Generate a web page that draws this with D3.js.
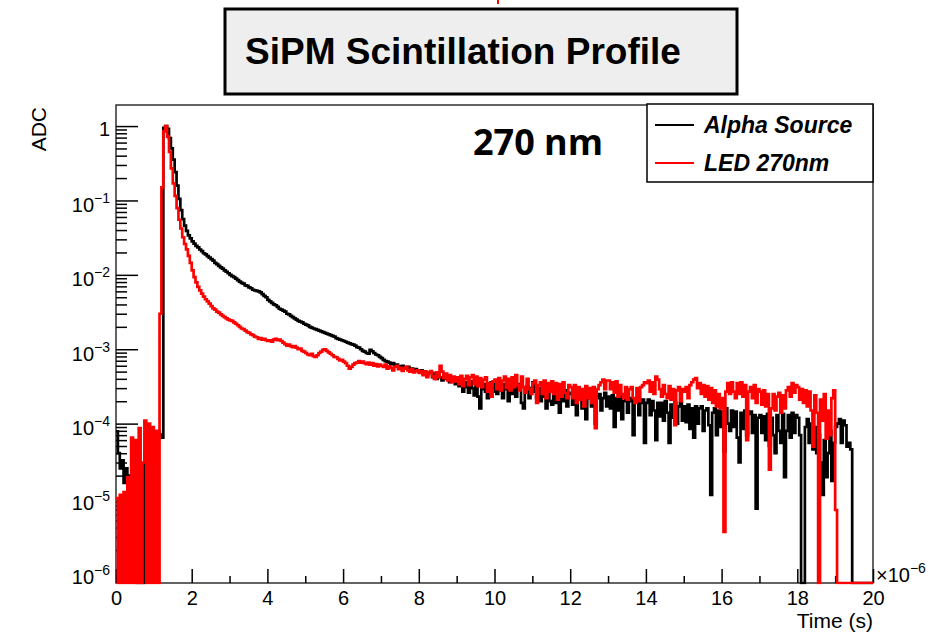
<!DOCTYPE html>
<html>
<head>
<meta charset="utf-8">
<script src="https://cdn.jsdelivr.net/npm/d3@7"></script>
<style>
  body { margin: 0; background: #fff; }
  svg { display: block; font-family: "Liberation Sans", Arial, Helvetica, sans-serif; }
</style>
</head>
<body>
<svg id="chart" width="933" height="633"></svg>
<script>
// histogram bins, 0.05 us wide, starting at t = 0 (x axis is in units of 1e-6 s)
const binWidthUs = 0.05;

// Alpha Source (black), normalised ADC per bin, 20 bins per microsecond
const alphaSource = [
  7.9e-5, 4.0e-5, 2.5e-5, 3.2e-5, 1.6e-5, 2.5e-5, 4.0e-6, 2.0e-5, 1.3e-5, 2.5e-6, 4.0e-6, 0, 0, 0, 0, 4.0e-5, 2.5e-5, 1.0e-5, 2.0e-5, 3.2e-6,
  5.0e-5, 3.2e-5, 7.9e-5, 7.1e-5, 6.5e-5, 0.95, 1.0, 0.92, 0.69, 0.50, 0.355, 0.24, 0.158, 0.105, 0.074, 0.056, 0.046, 0.039, 0.034, 0.031,
  0.0282, 0.0263, 0.0245, 0.0234, 0.0219, 0.0209, 0.0195, 0.0188, 0.0178, 0.0170, 0.0163, 0.0155, 0.0145, 0.0139, 0.0132, 0.0126, 0.0121, 0.0115, 0.0110, 0.0105,
  0.0100, 0.0096, 0.0093, 0.0089, 0.0085, 0.0081, 0.0078, 0.0076, 0.0072, 0.0071, 0.0068, 0.0066, 0.0063, 0.0062, 0.0061, 0.0060, 0.0058, 0.0055, 0.0052, 0.0050,
  0.0046, 0.0044, 0.0042, 0.0040, 0.0039, 0.0037, 0.0035, 0.0034, 0.0033, 0.0032, 0.0030, 0.00295, 0.0028, 0.0027, 0.0026, 0.0025, 0.0024, 0.00235, 0.0023, 0.0022,
  0.00214, 0.00209, 0.0020, 0.00195, 0.0019, 0.00186, 0.00182, 0.00178, 0.00174, 0.0017, 0.00166, 0.00162, 0.00158, 0.00155, 0.00151, 0.00148, 0.00141, 0.00138, 0.00135, 0.00132,
  1.29e-3, 1.26e-3, 1.23e-3, 1.2e-3, 1.17e-3, 1.15e-3, 1.12e-3, 1.07e-3, 1.05e-3, 1.0e-3, 9.5e-4, 9.3e-4, 8.9e-4, 8.7e-4, 9.8e-4, 9.4e-4, 8.9e-4, 8.5e-4, 8.3e-4, 7.9e-4,
  7.6e-4, 7.2e-4, 6.9e-4, 6.8e-4, 6.6e-4, 6.3e-4, 6.5e-4, 6.0e-4, 6.2e-4, 5.9e-4, 5.8e-4, 6.0e-4, 5.6e-4, 5.5e-4, 5.8e-4, 5.4e-4, 5.5e-4, 5.2e-4, 5.4e-4, 5.1e-4,
  5.0e-4, 5.2e-4, 4.7e-4, 5.0e-4, 4.5e-4, 4.8e-4, 4.9e-4, 4.2e-4, 4.7e-4, 4.0e-4, 4.6e-4, 4.2e-4, 3.8e-4, 4.5e-4, 4.0e-4, 4.3e-4, 3.6e-4, 4.1e-4, 3.8e-4, 3.4e-4,
  3.9e-4, 3.2e-4, 3.8e-4, 2.7e-4, 3.6e-4, 3.1e-4, 2.6e-4, 3.7e-4, 3.0e-4, 2.4e-4, 3.3e-4, 2.3e-4, 1.6e-4, 2.9e-4, 3.4e-4, 2.7e-4, 2.2e-4, 3.3e-4, 3.6e-4, 2.7e-4,
  3.4e-4, 2.5e-4, 3.5e-4, 2.8e-4, 2.2e-4, 3.4e-4, 2.9e-4, 2.0e-4, 3.3e-4, 2.5e-4, 3.2e-4, 2.3e-4, 3.1e-4, 3.4e-4, 1.9e-4, 1.6e-4, 2.9e-4, 3.2e-4, 2.2e-4, 3.0e-4,
  3.6e-4, 2.7e-4, 2.2e-4, 3.0e-4, 2.0e-4, 2.9e-4, 2.3e-4, 1.6e-4, 2.8e-4, 2.0e-4, 1.8e-4, 2.8e-4, 1.9e-4, 2.7e-4, 1.4e-4, 2.6e-4, 2.0e-4, 2.8e-4, 1.7e-4, 2.5e-4,
  2.6e-4, 1.8e-4, 2.5e-4, 1.3e-4, 2.3e-4, 2.6e-4, 1.6e-4, 2.4e-4, 1.15e-4, 2.2e-4, 2.5e-4, 1.7e-4, 2.4e-4, 1.0e-4, 2.2e-4, 2.5e-4, 1.5e-4, 2.2e-4, 2.6e-4, 1.7e-4,
  2.3e-4, 1.6e-4, 2.4e-4, 9.0e-5, 2.2e-4, 1.5e-4, 2.3e-4, 1.15e-4, 2.0e-4, 2.2e-4, 1.4e-4, 2.0e-4, 2.2e-4, 7.0e-5, 2.0e-4, 2.1e-4, 1.3e-4, 1.9e-4, 2.1e-4, 5.5e-5,
  1.9e-4, 2.1e-4, 1.3e-4, 2.0e-4, 1.5e-4, 6.0e-5, 1.9e-4, 1.25e-4, 1.9e-4, 1.1e-4, 2.0e-4, 1.4e-4, 5.5e-5, 1.8e-4, 1.2e-4, 1.9e-4, 1.0e-4, 1.7e-4, 1.9e-4, 1.1e-4,
  1.7e-4, 1.05e-4, 1.8e-4, 8.5e-5, 1.6e-4, 6.5e-5, 1.7e-4, 1.0e-4, 1.6e-4, 1.7e-4, 8.0e-5, 1.5e-4, 1.6e-4, 9.5e-5, 1.1e-5, 1.4e-4, 1.6e-4, 7.0e-5, 1.5e-4, 9.0e-5,
  1.45e-4, 4.2e-5, 1.6e-4, 1.0e-4, 8.0e-5, 1.5e-4, 9.0e-5, 1.45e-4, 6.5e-5, 3.0e-5, 1.4e-4, 8.5e-5, 1.5e-4, 7.0e-5, 1.35e-4, 1.45e-4, 7.5e-5, 1.3e-4, 7.2e-6, 1.2e-4,
  1.3e-4, 7.5e-5, 1.25e-4, 6.0e-5, 1.35e-4, 5.0e-5, 1.2e-4, 7.0e-5, 4.0e-5, 1.3e-4, 8.0e-5, 5.5e-5, 1.35e-4, 1.9e-5, 8.0e-5, 1.3e-4, 6.5e-5, 1.4e-4, 7.5e-5, 1.3e-4,
  1.2e-4, 7.0e-5, 0, 0, 9.0e-5, 1.15e-4, 5.5e-5, 1.0e-4, 4.5e-5, 9.0e-5, 4.0e-5, 7.0e-5, 3.0e-5, 1.1e-5, 6.0e-5, 1.9e-5, 4.0e-5, 8.0e-5, 1.7e-5, 5.5e-5,
  9.0e-5, 1.0e-4, 1.15e-4, 5.5e-5, 1.1e-4, 9.5e-5, 4.9e-5, 5.5e-5, 4.5e-5, 0, 0, 0, 0, 0, 0, 0, 0, 0, 0, 0
];

// LED 270nm (red)
const led270 = [
  1.0e-5, 0, 1.1e-5, 0, 1.2e-5, 0, 1.9e-5, 0, 6.5e-5, 0, 6.0e-5, 0, 8.7e-5, 0, 3.0e-5, 1.1e-4, 0, 1.0e-4, 0, 9.0e-5,
  0, 8.0e-5, 0, 3.0e-3, 0.15, 0.85, 1.0, 0.72, 0.45, 0.27, 0.17, 0.115, 0.079, 0.055, 0.042, 0.032, 0.026, 0.022, 0.018, 0.0145,
  1.15e-2, 9.3e-3, 7.9e-3, 6.9e-3, 6.2e-3, 5.6e-3, 5.1e-3, 4.7e-3, 4.4e-3, 4.1e-3, 3.8e-3, 3.55e-3, 3.4e-3, 3.2e-3, 3.1e-3, 2.95e-3, 2.8e-3, 2.7e-3, 2.6e-3, 2.5e-3,
  2.45e-3, 2.4e-3, 2.3e-3, 2.2e-3, 2.1e-3, 2.0e-3, 1.9e-3, 1.86e-3, 1.78e-3, 1.7e-3, 1.66e-3, 1.58e-3, 1.55e-3, 1.48e-3, 1.45e-3, 1.38e-3, 1.41e-3, 1.35e-3, 1.38e-3, 1.32e-3,
  1.29e-3, 1.32e-3, 1.26e-3, 1.35e-3, 1.38e-3, 1.32e-3, 1.35e-3, 1.29e-3, 1.23e-3, 1.17e-3, 1.12e-3, 1.15e-3, 1.1e-3, 1.07e-3, 1.1e-3, 1.05e-3, 1.0e-3, 1.02e-3, 9.5e-4, 9.3e-4,
  8.9e-4, 8.5e-4, 8.3e-4, 8.7e-4, 8.1e-4, 7.9e-4, 8.3e-4, 8.9e-4, 9.3e-4, 9.8e-4, 1.0e-3, 9.5e-4, 9.1e-4, 8.7e-4, 8.3e-4, 7.9e-4, 7.8e-4, 7.4e-4, 7.1e-4, 7.2e-4,
  6.8e-4, 6.5e-4, 6.0e-4, 5.5e-4, 5.8e-4, 6.2e-4, 6.5e-4, 6.6e-4, 6.9e-4, 6.6e-4, 6.8e-4, 6.5e-4, 6.3e-4, 6.6e-4, 6.2e-4, 6.5e-4, 6.0e-4, 6.3e-4, 5.9e-4, 6.2e-4,
  6.0e-4, 5.8e-4, 6.2e-4, 5.5e-4, 5.9e-4, 5.6e-4, 5.2e-4, 5.8e-4, 6.0e-4, 5.4e-4, 5.6e-4, 5.1e-4, 5.5e-4, 5.8e-4, 5.2e-4, 5.0e-4, 5.4e-4, 4.9e-4, 5.1e-4, 5.2e-4,
  4.8e-4, 5.1e-4, 4.5e-4, 5.0e-4, 4.2e-4, 4.8e-4, 5.1e-4, 4.3e-4, 4.0e-4, 4.9e-4, 4.2e-4, 6.0e-4, 5.0e-4, 4.1e-4, 4.7e-4, 3.8e-4, 4.5e-4, 3.6e-4, 4.3e-4, 3.7e-4,
  4.2e-4, 3.4e-4, 4.4e-4, 3.2e-4, 4.0e-4, 4.4e-4, 3.3e-4, 4.2e-4, 4.5e-4, 3.4e-4, 4.3e-4, 3.2e-4, 4.1e-4, 3.1e-4, 3.9e-4, 4.2e-4, 2.7e-4, 3.5e-4, 2.3e-4, 3.7e-4,
  3.9e-4, 2.9e-4, 4.1e-4, 2.8e-4, 3.8e-4, 4.3e-4, 3.0e-4, 4.0e-4, 2.8e-4, 4.2e-4, 3.1e-4, 4.5e-4, 3.3e-4, 2.8e-4, 4.3e-4, 3.1e-4, 2.6e-4, 4.0e-4, 2.9e-4, 2.5e-4,
  3.5e-4, 3.8e-4, 1.9e-4, 3.3e-4, 3.6e-4, 2.5e-4, 3.8e-4, 2.2e-4, 3.5e-4, 2.7e-4, 3.7e-4, 2.5e-4, 3.5e-4, 2.1e-4, 3.4e-4, 2.3e-4, 3.6e-4, 2.6e-4, 2.2e-4, 3.3e-4,
  3.1e-4, 2.2e-4, 3.3e-4, 1.9e-4, 3.1e-4, 2.1e-4, 2.9e-4, 1.7e-4, 3.2e-4, 2.2e-4, 3.0e-4, 1.9e-4, 3.1e-4, 8.7e-5, 2.9e-4, 3.3e-4, 3.6e-4, 3.9e-4, 2.9e-4, 3.8e-4,
  3.8e-4, 2.9e-4, 3.6e-4, 2.6e-4, 3.7e-4, 2.3e-4, 3.3e-4, 2.5e-4, 2.2e-4, 3.1e-4, 2.1e-4, 2.9e-4, 3.1e-4, 2.2e-4, 1.9e-4, 3.0e-4, 2.0e-4, 3.1e-4, 3.3e-4, 3.6e-4,
  3.5e-4, 3.8e-4, 2.7e-4, 3.6e-4, 2.5e-4, 4.3e-4, 3.9e-4, 2.9e-4, 2.3e-4, 3.3e-4, 2.5e-4, 2.2e-4, 3.2e-4, 2.1e-4, 2.9e-4, 9.5e-5, 2.8e-4, 3.1e-4, 2.0e-4, 2.9e-4,
  2.7e-4, 3.1e-4, 2.2e-4, 3.3e-4, 3.6e-4, 3.9e-4, 4.1e-4, 3.0e-4, 3.5e-4, 2.5e-4, 3.3e-4, 2.3e-4, 3.2e-4, 2.1e-4, 3.0e-4, 1.9e-4, 2.8e-4, 1.7e-4, 2.5e-4, 1.6e-4,
  2.2e-4, 3.5e-6, 2.7e-4, 3.5e-4, 2.5e-4, 3.6e-4, 2.7e-4, 2.2e-4, 3.5e-4, 2.5e-4, 3.6e-4, 2.3e-4, 3.3e-4, 6.0e-5, 2.7e-4, 3.1e-4, 2.2e-4, 3.3e-4, 1.9e-4, 2.9e-4,
  2.7e-4, 1.8e-4, 2.8e-4, 1.7e-4, 2.5e-4, 2.4e-5, 1.6e-4, 2.5e-4, 1.5e-4, 2.3e-4, 2.6e-4, 1.4e-4, 2.4e-4, 1.6e-4, 2.8e-4, 3.1e-4, 2.3e-4, 3.5e-4, 2.6e-4, 3.3e-4,
  3.1e-4, 2.1e-4, 2.9e-4, 1.9e-4, 2.8e-4, 1.7e-4, 2.7e-4, 1.5e-4, 4.9e-5, 2.4e-4, 1.4e-4, 0, 2.1e-4, 1.1e-4, 2.5e-4, 6.3e-5, 1.5e-4, 7.0e-5, 2.2e-4, 2.8e-4,
  6.9e-6, 0, 0, 0, 0, 0, 0, 0, 0, 0, 0, 0, 0, 0, 0, 0, 0, 0, 0, 0
];

const seriesNames = ["Alpha Source", "LED 270nm"];
const seriesColors = ["#000000", "#ff0000"];

const xTicks = [0, 2, 4, 6, 8, 10, 12, 14, 16, 18, 20];
const xMinorTicks = [1, 3, 5, 7, 9, 11, 13, 15, 17, 19];
const yDecades = [1, 1e-1, 1e-2, 1e-3, 1e-4, 1e-5, 1e-6];
const yExponents = [0, -1, -2, -3, -4, -5, -6];

// ---- layout ----
const frame = { left: 116, right: 873, top: 105, bottom: 583 };
const yMin = 7.2e-7, yMax = 1.92;

const svg = d3.select("#chart");
svg.append("rect").attr("width", 933).attr("height", 633).attr("fill", "#fff");

const x = d3.scaleLinear().domain([0, 20]).range([frame.left, frame.right]);
const y = d3.scaleLog().domain([yMin, yMax]).range([frame.bottom, frame.top]);

// stray red mark at the very top of the slide
svg.append("line").attr("x1", 498).attr("x2", 498).attr("y1", 0).attr("y2", 4)
  .attr("stroke", "#ff0000").attr("stroke-width", 2);

// title box
svg.append("rect")
  .attr("x", 225).attr("y", 9).attr("width", 512).attr("height", 85)
  .attr("fill", "#eeeeee").attr("stroke", "#000").attr("stroke-width", 3);
svg.append("text")
  .attr("x", 245).attr("y", 64)
  .style("font-size", "37px").style("font-weight", "bold")
  .text("SiPM Scintillation Profile");

// frame
svg.append("rect")
  .attr("x", frame.left).attr("y", frame.top)
  .attr("width", frame.right - frame.left).attr("height", frame.bottom - frame.top)
  .attr("fill", "none").attr("stroke", "#222").attr("stroke-width", 1.4);

function styleAxis(g) {
  g.attr("font-size", null).attr("font-family", null);
  g.select(".domain").remove();
  g.selectAll(".tick line").attr("stroke", "#000").attr("stroke-width", 1.5);
}

// x axis: major + minor ticks, pointing inward
svg.append("g")
  .attr("transform", `translate(0,${frame.bottom})`)
  .call(d3.axisBottom(x).tickValues(xTicks).tickSizeInner(-14).tickSizeOuter(0)
    .tickPadding(8).tickFormat(d3.format("d")))
  .call(styleAxis)
  .call(g => g.selectAll("text").style("font-size", "20px").attr("fill", "#000"));

svg.append("g")
  .attr("transform", `translate(0,${frame.bottom})`)
  .call(d3.axisBottom(x).tickValues(xMinorTicks).tickSizeInner(-7).tickSizeOuter(0).tickFormat(() => ""))
  .call(styleAxis);

// y axis (log): decades + 2..9 minor ticks
const yMinor = [];
for (let k = -7; k <= 0; k++) {
  for (let m = 2; m <= 9; m++) {
    const v = m * Math.pow(10, k);
    if (v > yMin && v < yMax) yMinor.push(v);
  }
}

const yAxisG = svg.append("g")
  .attr("transform", `translate(${frame.left},0)`)
  .call(d3.axisLeft(y).tickValues(yDecades).tickSizeInner(-22).tickSizeOuter(0).tickFormat(() => ""))
  .call(styleAxis);

svg.append("g")
  .attr("transform", `translate(${frame.left},0)`)
  .call(d3.axisLeft(y).tickValues(yMinor).tickSizeInner(-11).tickSizeOuter(0).tickFormat(() => ""))
  .call(styleAxis);

yAxisG.selectAll(".tick").each(function(d, i) {
  const e = yExponents[i];
  const t = d3.select(this).append("text")
    .attr("x", -6).attr("text-anchor", "end").attr("fill", "#000")
    .style("font-size", "20px");
  if (e === 0) {
    t.attr("y", 9).text("1");
  } else {
    t.attr("y", 11);
    t.append("tspan").text("10");
    t.append("tspan").attr("dy", -9).style("font-size", "14px").text("\u2212" + Math.abs(e));
  }
});

// axis titles
svg.append("text")
  .attr("transform", `translate(46,107) rotate(-90)`)
  .attr("text-anchor", "end")
  .style("font-size", "21px")
  .text("ADC");

svg.append("text")
  .attr("x", frame.right).attr("y", 628).attr("text-anchor", "end")
  .style("font-size", "21px")
  .text("Time (s)");

const mult = svg.append("text").attr("x", 876).attr("y", 582).style("font-size", "20px");
mult.append("tspan").text("\u00d710");
mult.append("tspan").attr("dy", -9).style("font-size", "14px").text("\u22126");

// histograms
svg.append("clipPath").attr("id", "plot-clip")
  .append("rect")
  .attr("x", frame.left).attr("y", frame.top)
  .attr("width", frame.right - frame.left).attr("height", frame.bottom - frame.top + 1.5);

function histPoints(values) {
  const pts = values.map((v, i) => [i * binWidthUs, v]);
  pts.push([values.length * binWidthUs, values[values.length - 1]]);
  return pts;
}

const line = d3.line()
  .x(d => x(d[0]))
  .y(d => y(Math.max(d[1], yMin)))
  .curve(d3.curveStepAfter);

const plot = svg.append("g").attr("clip-path", "url(#plot-clip)");
[alphaSource, led270].forEach((vals, i) => {
  plot.append("path")
    .attr("d", line(histPoints(vals)))
    .attr("fill", "none")
    .attr("stroke", seriesColors[i])
    .attr("stroke-width", 2.7)
    .attr("stroke-linejoin", "miter");
});

// annotation
svg.append("text")
  .attr("x", 473).attr("y", 155)
  .style("font-family", "'Open Sans', 'Liberation Sans', sans-serif")
  .style("font-size", "36px").style("font-weight", "bold")
  .text("270 nm");

// legend
const legend = svg.append("g");
legend.append("rect")
  .attr("x", 647).attr("y", 104).attr("width", 226).attr("height", 78)
  .attr("fill", "#fff").attr("stroke", "#000").attr("stroke-width", 1.5);
const rows = legend.selectAll("g.row")
  .data(seriesNames)
  .enter()
  .append("g")
  .attr("class", "row")
  .attr("transform", (d, i) => `translate(0,${125 + i * 38})`);
rows.append("line")
  .attr("x1", 655).attr("x2", 694)
  .attr("stroke", (d, i) => seriesColors[i]).attr("stroke-width", 2);
rows.append("text")
  .attr("x", 704).attr("y", 8)
  .style("font-size", "23px").style("font-weight", "bold").style("font-style", "italic")
  .text(d => d);
</script>
</body>
</html>
